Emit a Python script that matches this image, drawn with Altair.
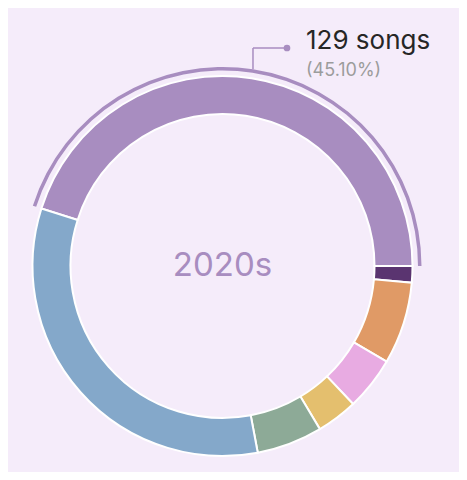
import math
import altair as alt
import pandas as pd

# ---- data ----
decades = ["2020s", "1960s", "1970s", "1980s", "1990s", "2000s", "2010s"]
songs = [129, 4, 20, 13, 10, 16, 94]
colors = ["#A88DC0", "#5A3470", "#E09A66", "#E8ABE2", "#E4BF6E", "#8DAA97", "#84A8CA"]
highlight = "2020s"

df = pd.DataFrame({"decade": decades, "songs": songs, "idx": list(range(len(decades)))})
total = sum(songs)

# ---- layout ----
BG = "#F5ECFA"
CX, CY = 214.5, 258
R_IN, R_OUT = 152, 190
R_HL_IN, R_HL_OUT = 195.5, 199
# rotate so the highlighted slice ends at 3 o'clock
frac = songs[decades.index(highlight)] / total
OFFSET = math.pi / 2 - 2 * math.pi * frac
theta_scale = alt.Scale(range=[OFFSET + 2 * math.pi, OFFSET + 4 * math.pi])
color_scale = alt.Scale(domain=decades, range=colors)

base = alt.Chart(df)

ring = base.mark_arc(stroke="white", strokeWidth=2).encode(
    theta=alt.Theta("songs:Q", stack=True, scale=theta_scale),
    order=alt.Order("idx:Q"),
    color=alt.Color("decade:N", scale=color_scale, legend=None),
    radius=alt.value(R_OUT),
    radius2=alt.value(R_IN),
    x=alt.value(CX),
    y=alt.value(CY),
)

hl = base.mark_arc().encode(
    theta=alt.Theta("songs:Q", stack=True, scale=theta_scale),
    order=alt.Order("idx:Q"),
    color=alt.Color("decade:N", scale=color_scale, legend=None),
    opacity=alt.condition(alt.datum.decade == highlight, alt.value(1), alt.value(0)),
    radius=alt.value(R_HL_OUT),
    radius2=alt.value(R_HL_IN),
    x=alt.value(CX),
    y=alt.value(CY),
)

LABEL_Y = 40
ann = (
    base.transform_window(cum="sum(songs)", sort=[alt.SortField("idx")], frame=[None, 0])
    .transform_joinaggregate(total="sum(songs)")
    .transform_filter(alt.datum.decade == highlight)
    .transform_calculate(
        mid=f"{OFFSET} + 2*PI*(datum.cum - datum.songs/2)/datum.total",
        tx=f"{CX} + {R_HL_OUT}*sin(datum.mid)",
        ty=f"{CY} - {R_HL_OUT}*cos(datum.mid)",
        ly=f"{LABEL_Y}",
        dx="datum.tx + 34",
        lx="datum.tx + 53",
        l1="datum.songs + ' songs'",
        l2="'(' + format(datum.songs/datum.total*100, '.2f') + '%)'",
    )
)

vrule = ann.mark_rule(color="#A88DC0", strokeWidth=1.5).encode(
    x=alt.X("tx:Q", scale=None, axis=None),
    y=alt.Y("ty:Q", scale=None, axis=None),
    y2="ly:Q",
)
hrule = ann.mark_rule(color="#A88DC0", strokeWidth=1.5).encode(
    x=alt.X("tx:Q", scale=None, axis=None),
    x2="dx:Q",
    y=alt.Y("ly:Q", scale=None, axis=None),
)
dot = ann.mark_circle(color="#A88DC0", size=45, opacity=1).encode(
    x=alt.X("dx:Q", scale=None, axis=None),
    y=alt.Y("ly:Q", scale=None, axis=None),
)
t1 = ann.mark_text(align="left", baseline="alphabetic", font="Inter", fontSize=26,
                   color="#262626", dy=1).encode(
    x=alt.X("lx:Q", scale=None, axis=None),
    y=alt.Y("ly:Q", scale=None, axis=None),
    text="l1:N",
)
t2 = ann.mark_text(align="left", baseline="alphabetic", font="Inter", fontSize=18,
                   color="#9C9C9C", dy=28).encode(
    x=alt.X("lx:Q", scale=None, axis=None),
    y=alt.Y("ly:Q", scale=None, axis=None),
    text="l2:N",
)
center = base.transform_filter(alt.datum.decade == highlight).mark_text(
    align="center", baseline="middle", font="Inter", fontSize=33, color="#A88DC0"
).encode(
    x=alt.value(CX),
    y=alt.value(CY),
    text="decade:N",
)

chart = (
    alt.layer(ring, hl, vrule, hrule, dot, t1, t2, center)
    .properties(width=451, height=464, background=BG, padding=0, autosize="none")
    .configure_view(stroke=None)
)

chart.save("out.html", embed_options={"renderer": "svg", "actions": False})
